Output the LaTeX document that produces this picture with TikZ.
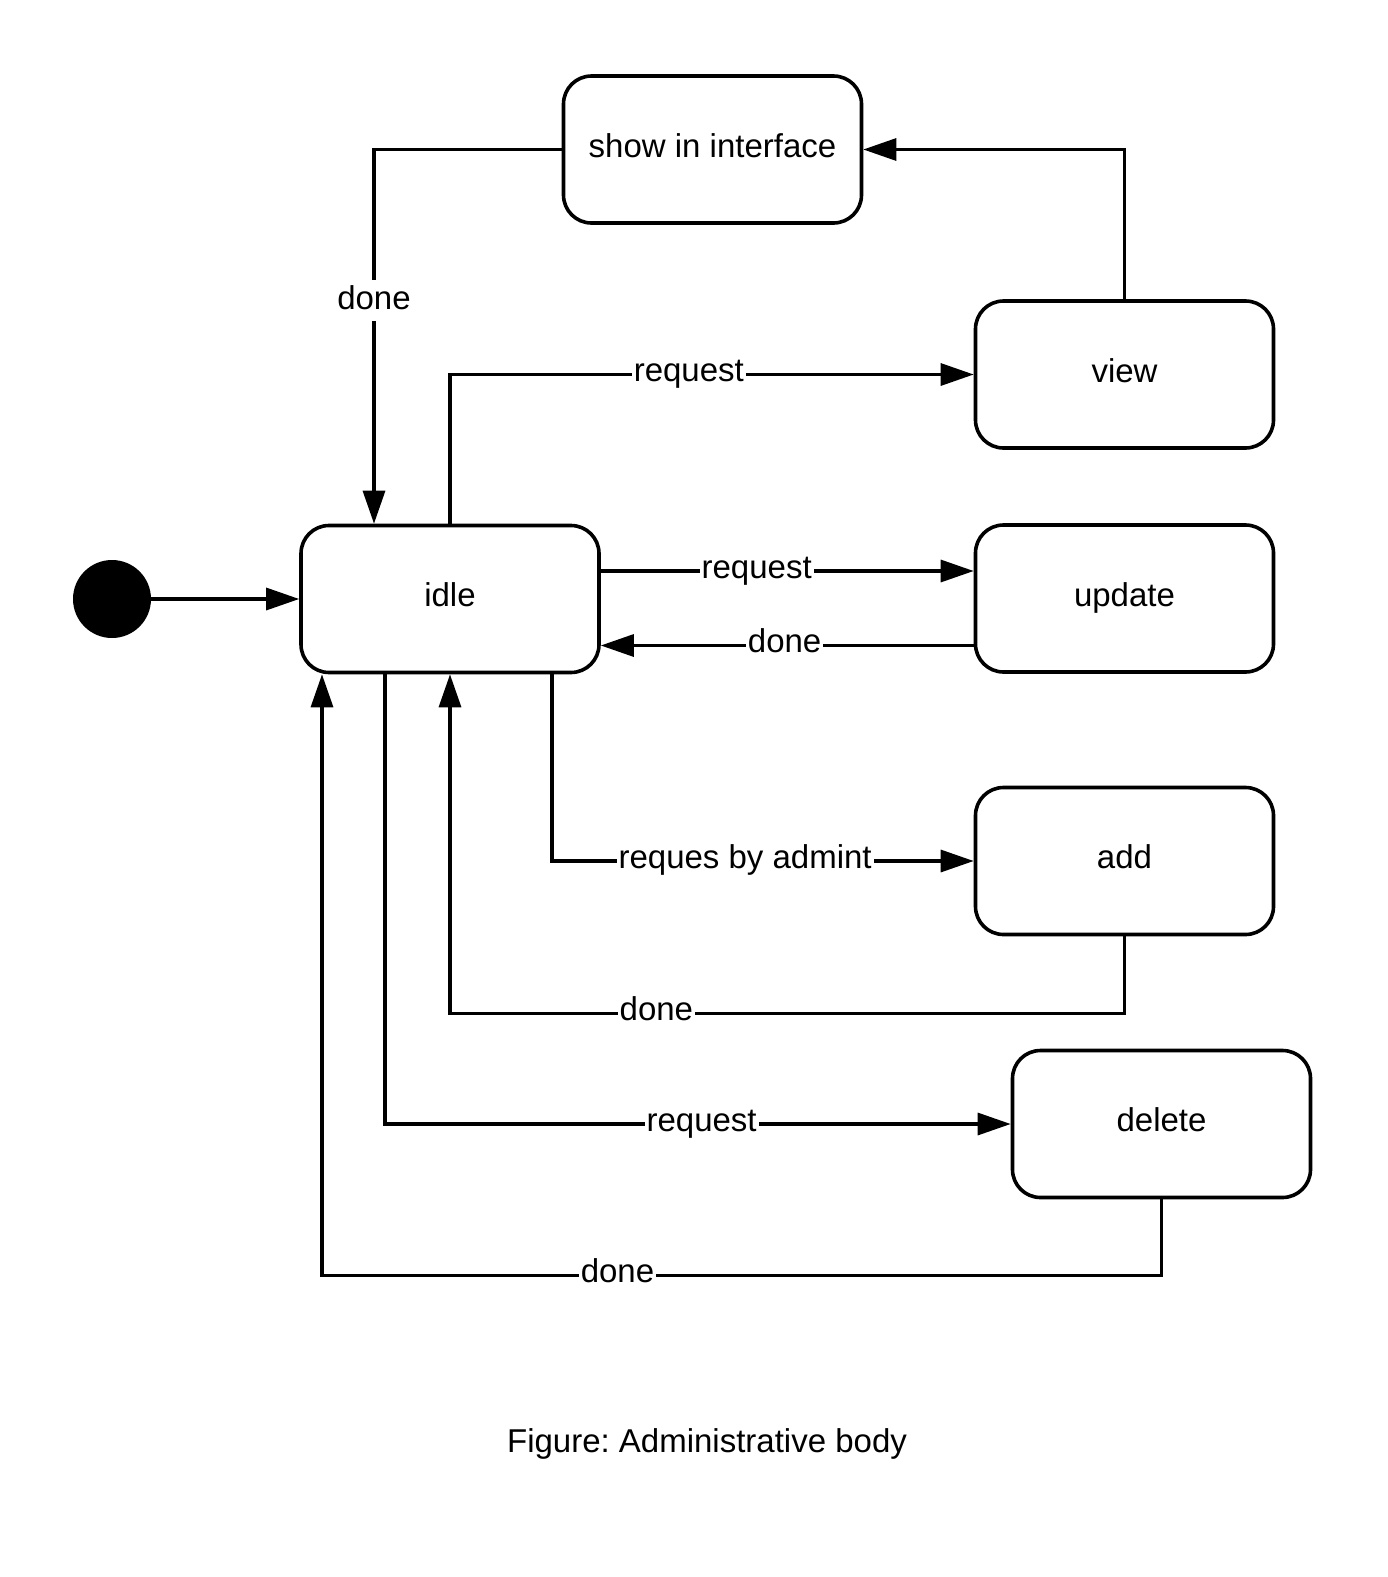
\documentclass[tikz,border=0pt]{standalone}
\usepackage{fontspec}
\setmainfont{Liberation Sans}
\usetikzlibrary{arrows.meta}
\frenchspacing
\begin{document}
\begin{tikzpicture}[x=1pt,y=-1pt,
  font=\fontsize{33}{40}\selectfont,
  state/.style={draw, line width=3.6pt, rounded corners=28pt,
    minimum width=298pt, minimum height=147pt, inner sep=0pt,
    text height=22pt, text depth=7pt},
  conn/.style={line width=3.2pt, -{Triangle[length=33pt,width=22pt]}},
  elabel/.style={fill=white, inner xsep=2pt, inner ysep=1pt,
    anchor=base, yshift=-7pt},
  vlabel/.style={fill=white, inner xsep=2pt, inner ysep=5pt,
    text height=24pt, text depth=7pt, anchor=center}
]
\fill[white] (0,0) rectangle (1388,1577);
\useasboundingbox (0,0) rectangle (1388,1577);

% states
\node[state] (show)   at (712.5,149.5) {show in interface};
\node[state] (view)   at (1124.5,374.5) {view};
\node[state] (idle)   at (450,599) {idle};
\node[state] (update) at (1124.5,598.5) {update};
\node[state] (add)    at (1124.5,861) {add};
\node[state] (delete) at (1161.5,1124) {delete};
\node[circle, fill=black, minimum size=78pt, inner sep=0pt] (init) at (112,599) {};
\node[anchor=base] (caption) at (707,1452) {Figure: Administrative body};

% transitions
\draw[conn] (init) -- (idle.west);
\draw[conn] (show.west) -| node[vlabel, pos=0.702] {done} ([xshift=-76pt]idle.north);
\draw[conn] (idle.north) |- node[elabel, pos=0.728] {request} (view.west);
\draw[conn] (view.north) |- (show.east);
\draw[conn] ([yshift=28pt]idle.east) -- node[elabel, pos=0.418] {request} ([yshift=28pt]idle.east -| update.west);
\draw[conn] ([yshift=-47pt]update.west) -- node[elabel, pos=0.507] {done} ([yshift=-47pt]update.west -| idle.east);
\draw[conn] ([xshift=102pt]idle.south) |- node[elabel, pos=0.729] {reques by admint} (add.west);
\draw[conn] (add.south) -- ++(0,77) -| node[elabel, pos=0.347] {done} (idle.south);
\draw[conn] ([xshift=-65pt]idle.south) |- node[elabel, pos=0.753] {request} (delete.west);
\draw[conn] (delete.south) -- ++(0,76) -| node[elabel, pos=0.324] {done} ([xshift=-128pt]idle.south);
\end{tikzpicture}
\end{document}
